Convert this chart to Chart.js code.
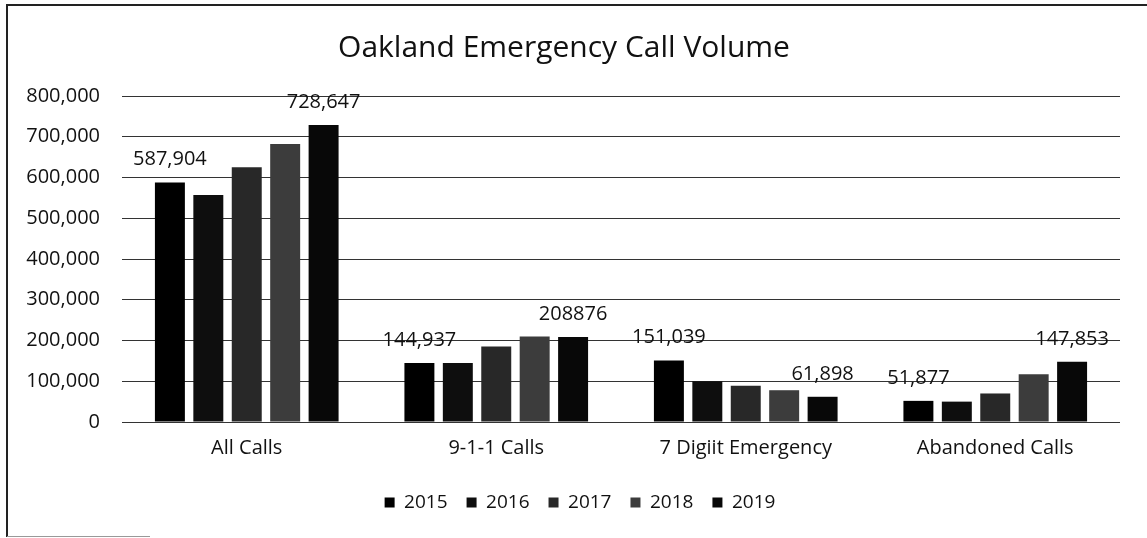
<!DOCTYPE html>
<html>
<head>
<meta charset="utf-8">
<script src="https://cdn.jsdelivr.net/npm/chart.js@4/dist/chart.umd.min.js"></script>
<style>
  html, body { margin: 0; padding: 0; background: #fff; }
  #wrap { width: 1147px; height: 538px; position: relative; }
</style>
</head>
<body>
<div id="wrap"><canvas id="grafica"></canvas></div>
<script>
// datos
const categorias = ["All Calls", "9-1-1 Calls", "7 Digiit Emergency", "Abandoned Calls"];
const anios = ["2015", "2016", "2017", "2018", "2019"];

const v2015 = [587904, 144937, 151039, 51877];
const v2016 = [557000, 145000, 100000, 50000];
const v2017 = [625000, 185000, 89000, 70000];
const v2018 = [682000, 210000, 78000, 117000];
const v2019 = [728647, 208876, 61898, 147853];

// etiquetas que aparecen sobre la primera y ultima barra de cada grupo
const etiquetas2015 = ["587,904", "144,937", "151,039", "51,877"];
const etiquetas2019 = ["728,647", "208876", "61,898", "147,853"];

const colores = ["#000000", "#0e0e0e", "#282828", "#3c3c3c", "#080808"];
const valores = [v2015, v2016, v2017, v2018, v2019];

const fuente = "'Open Sans', 'DejaVu Sans', sans-serif";

// etiquetas de datos encima de las barras
const pluginEtiquetas = {
  id: "etiquetas",
  afterDatasetsDraw(chart) {
    const ctx = chart.ctx;
    ctx.save();
    ctx.font = "20px " + fuente;
    ctx.fillStyle = "#111";
    ctx.textAlign = "center";
    ctx.textBaseline = "alphabetic";
    [[0, etiquetas2015], [4, etiquetas2019]].forEach(([ds, textos]) => {
      chart.getDatasetMeta(ds).data.forEach((bar, i) => {
        ctx.fillText(textos[i], bar.x, bar.y - 17);
      });
    });
    ctx.restore();
  }
};

// la leyenda del original esta un poco corrida a la derecha
const pluginLeyenda = {
  id: "leyendaCorrida",
  afterUpdate(chart) {
    chart.legend.left += 16;
    chart.legend.right += 16;
  }
};

// marco del grafico (solo arriba e izquierda como en el escaneo)
const pluginMarco = {
  id: "marco",
  beforeDraw(chart) {
    const ctx = chart.ctx;
    ctx.save();
    ctx.strokeStyle = "#222";
    ctx.lineWidth = 2;
    ctx.beginPath();
    ctx.moveTo(7, 537);
    ctx.lineTo(7, 5);
    ctx.lineTo(1147, 5);
    ctx.stroke();
    ctx.strokeStyle = "#999";
    ctx.lineWidth = 1;
    ctx.beginPath();
    ctx.moveTo(7, 536.5);
    ctx.lineTo(150, 536.5);
    ctx.stroke();
    ctx.restore();
  }
};

const datax = {
  labels: categorias,
  datasets: anios.map((a, k) => ({
    label: a,
    data: valores[k],
    backgroundColor: colores[k],
    borderWidth: 0,
    barPercentage: 0.78,
    categoryPercentage: 0.77
  }))
};

const config = {
  type: "bar",
  data: datax,
  options: {
    responsive: false,
    animation: false,
    layout: { padding: { left: 8, right: 27, top: 14, bottom: 16 } },
    plugins: {
      title: {
        display: true,
        text: "Oakland Emergency Call Volume",
        color: "#111",
        font: { family: fuente, size: 30, weight: "normal" },
        padding: { top: 16, bottom: 30 }
      },
      legend: {
        position: "bottom",
        labels: {
          color: "#111",
          boxWidth: 10,
          boxHeight: 10,
          padding: 19,
          font: { family: fuente, size: 19 }
        }
      },
      tooltip: { enabled: false }
    },
    scales: {
      x: {
        grid: { display: false, drawTicks: false },
        border: { display: false },
        ticks: { color: "#111", padding: 14, font: { family: fuente, size: 20 } }
      },
      y: {
        min: 0,
        max: 800000,
        afterFit(scale) { scale.width = 114; },
        grid: { color: "#333", lineWidth: 1, drawTicks: false },
        border: { display: false },
        ticks: {
          stepSize: 100000,
          color: "#111",
          padding: 22,
          font: { family: fuente, size: 20 },
          callback: v => v.toLocaleString("en-US")
        }
      }
    }
  },
  plugins: [pluginEtiquetas, pluginLeyenda, pluginMarco]
};

const cv = document.getElementById("grafica");
cv.width = 1147;
cv.height = 538;
new Chart(cv, config);
</script>
</body>
</html>
